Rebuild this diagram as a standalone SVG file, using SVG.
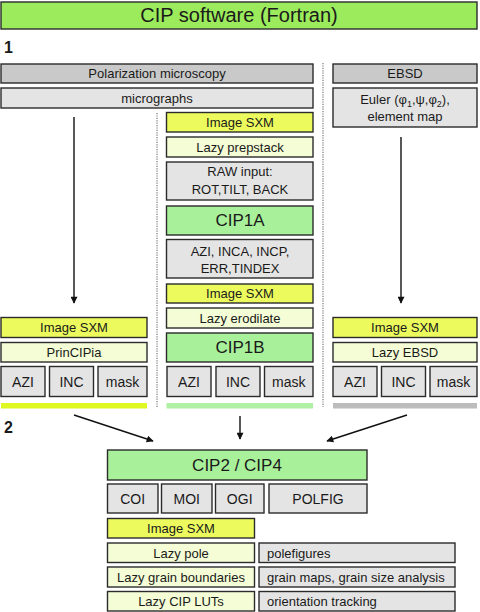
<svg xmlns="http://www.w3.org/2000/svg" width="480" height="612" viewBox="0 0 480 612">
<style>
.b{stroke:#2b2b2b;stroke-width:1.4}
.title{fill:#9ceb5c}
.grn{fill:#a9f09b}
.yel{fill:#ecfa5e}
.lyel{fill:#f4fdd6}
.gry{fill:#c9c9c9}
.lgry{fill:#e4e4e4}
text{font-family:"Liberation Sans",Arial,sans-serif;fill:#1a1a1a;text-anchor:middle}
.t13{font-size:13px}
.t14{font-size:14px}
.t17{font-size:17px}
.lft{text-anchor:start}
.num{font-size:16px;font-weight:bold;text-anchor:start}
.sep{stroke:#9a9a9a;stroke-width:1.6;stroke-dasharray:1.2 1.2;fill:none}
.arr{stroke:#111;stroke-width:1.4;fill:none;marker-end:url(#ah)}
</style>
<defs>
<marker id="ah" viewBox="0 0 10 10" refX="9" refY="5" markerWidth="7.5" markerHeight="7" markerUnits="userSpaceOnUse" orient="auto">
<path d="M0,0 L10,5 L0,10 z" fill="#111"/>
</marker>
</defs>

<g id="title"><rect class="b title" x="1" y="2" width="476" height="27"/><text x="239" y="22" style="font-size:20px">CIP software (Fortran)</text></g>
<text class="num" x="4" y="53">1</text>
<text class="num" x="4" y="433">2</text>

<g id="separators">
<line class="sep" x1="157" y1="113" x2="157" y2="407"/>
<line class="sep" x1="323" y1="63" x2="323" y2="407"/>
</g>

<g id="polmicro"><rect class="b gry" x="1" y="64" width="312" height="19"/><text class="t13" x="157" y="78">Polarization microscopy</text></g>
<g id="micrographs"><rect class="b lgry" x="1" y="88" width="312" height="20"/><text class="t13" x="157" y="102.5">micrographs</text></g>
<g id="ebsd"><rect class="b gry" x="333" y="64" width="144" height="19"/><text class="t13" x="405" y="78">EBSD</text></g>
<g id="euler"><rect class="b lgry" x="333" y="88" width="144" height="39"/>
<text class="t13" x="405" y="104">Euler (φ<tspan font-size="9" dy="3">1</tspan><tspan dy="-3">,ψ,φ</tspan><tspan font-size="9" dy="3">2</tspan><tspan dy="-3">),</tspan></text>
<text class="t13" x="405" y="121">element map</text></g>

<!-- center column -->
<g id="c-sxm1"><rect class="b yel" x="166.5" y="112.5" width="146.5" height="19.5"/><text class="t13" x="240" y="127">Image SXM</text></g>
<g id="c-prepstack"><rect class="b lyel" x="166.5" y="137" width="146.5" height="20"/><text class="t13" x="240" y="151.5">Lazy prepstack</text></g>
<g id="c-raw"><rect class="b lgry" x="166.5" y="162" width="146.5" height="38"/><text class="t13" x="240" y="176">RAW input:</text><text class="t13" x="240" y="194">ROT,TILT, BACK</text></g>
<g id="cip1a"><rect class="b grn" x="166.5" y="206" width="146.5" height="29"/><text class="t17" x="240" y="226">CIP1A</text></g>
<g id="c-azi"><rect class="b lgry" x="166.5" y="239.5" width="146.5" height="38.5"/><text class="t13" x="240" y="256">AZI, INCA, INCP,</text><text class="t13" x="240" y="273">ERR,TINDEX</text></g>
<g id="c-sxm2"><rect class="b yel" x="166.5" y="284" width="146.5" height="19"/><text class="t13" x="240" y="298">Image SXM</text></g>
<g id="c-erodilate"><rect class="b lyel" x="166.5" y="308" width="146.5" height="20"/><text class="t13" x="240" y="322.5">Lazy erodilate</text></g>
<g id="cip1b"><rect class="b grn" x="166.5" y="333" width="146.5" height="29"/><text class="t17" x="240" y="353">CIP1B</text></g>
<g id="c-out">
<rect class="b lgry" x="167" y="366.5" width="44" height="30"/><text class="t14" x="189" y="387">AZI</text>
<rect class="b lgry" x="216" y="366.5" width="44" height="30"/><text class="t14" x="238" y="387">INC</text>
<rect class="b lgry" x="264.5" y="366.5" width="48.5" height="30"/><text class="t14" x="288.7" y="387">mask</text>
</g>
<rect x="166.5" y="403" width="146.5" height="5.5" fill="#b0f0a4"/>

<!-- left column -->
<g id="l-sxm"><rect class="b yel" x="1" y="317.5" width="146" height="20"/><text class="t13" x="74" y="332">Image SXM</text></g>
<g id="l-princ"><rect class="b lyel" x="1" y="342.5" width="146" height="19.5"/><text class="t13" x="74" y="357">PrinCIPia</text></g>
<g id="l-out">
<rect class="b lgry" x="1" y="366.5" width="44" height="30"/><text class="t14" x="23" y="387">AZI</text>
<rect class="b lgry" x="49.5" y="366.5" width="44" height="30"/><text class="t14" x="71.5" y="387">INC</text>
<rect class="b lgry" x="98" y="366.5" width="49" height="30"/><text class="t14" x="122.5" y="387">mask</text>
</g>
<rect x="1" y="403" width="146" height="5.5" fill="#e0f822"/>

<!-- right column -->
<g id="r-sxm"><rect class="b yel" x="333" y="317.5" width="144" height="20"/><text class="t13" x="405" y="332">Image SXM</text></g>
<g id="r-ebsd"><rect class="b lyel" x="333" y="342.5" width="144" height="19.5"/><text class="t13" x="405" y="357">Lazy EBSD</text></g>
<g id="r-out">
<rect class="b lgry" x="333" y="366.5" width="44" height="30"/><text class="t14" x="355" y="387">AZI</text>
<rect class="b lgry" x="381.5" y="366.5" width="44" height="30"/><text class="t14" x="403.5" y="387">INC</text>
<rect class="b lgry" x="430" y="366.5" width="47" height="30"/><text class="t14" x="453.5" y="387">mask</text>
</g>
<rect x="333" y="403" width="144" height="5.5" fill="#bcbcbc"/>

<!-- bottom -->
<g id="cip24"><rect class="b grn" x="107.5" y="450" width="259.5" height="30"/><text class="t17" x="237" y="471">CIP2 / CIP4</text></g>
<g id="coi"><rect class="b lgry" x="107.5" y="484" width="50.5" height="29"/><text class="t14" x="132.7" y="504">COI</text></g>
<g id="moi"><rect class="b lgry" x="161.5" y="484" width="50.5" height="29"/><text class="t14" x="186.7" y="504">MOI</text></g>
<g id="ogi"><rect class="b lgry" x="215.5" y="484" width="48.5" height="29"/><text class="t14" x="239.7" y="504">OGI</text></g>
<g id="polfig"><rect class="b lgry" x="269" y="484" width="98" height="29"/><text class="t14" x="318" y="504">POLFIG</text></g>
<g id="b-sxm"><rect class="b yel" x="107.5" y="518.5" width="147" height="19.5"/><text class="t13" x="181" y="533">Image SXM</text></g>
<g id="b-pole"><rect class="b lyel" x="107.5" y="543" width="147" height="19.5"/><text class="t13" x="181" y="557.5">Lazy pole</text></g>
<g id="b-polefig"><rect class="b lgry" x="259" y="543" width="196" height="19.5"/><text class="t13 lft" x="267" y="557.5">polefigures</text></g>
<g id="b-grain"><rect class="b lyel" x="107.5" y="567" width="147" height="20"/><text class="t13" x="181" y="581.5">Lazy grain boundaries</text></g>
<g id="b-grainmaps"><rect class="b lgry" x="259" y="567" width="196" height="20"/><text class="t13 lft" x="267" y="581.5">grain maps, grain size analysis</text></g>
<g id="b-luts"><rect class="b lyel" x="107.5" y="591.5" width="147" height="19.5"/><text class="t13" x="181" y="606">Lazy CIP LUTs</text></g>
<g id="b-orient"><rect class="b lgry" x="259" y="591.5" width="196" height="19.5"/><text class="t13 lft" x="267" y="606">orientation tracking</text></g>

<g id="connectors">
<line class="arr" x1="74" y1="117" x2="74" y2="303"/>
<line class="arr" x1="401" y1="137" x2="401" y2="303"/>
<line class="arr" x1="74" y1="415" x2="153" y2="441"/>
<line class="arr" x1="240" y1="416" x2="240" y2="439"/>
<line class="arr" x1="407" y1="415" x2="327" y2="441"/>
</g>
</svg>
